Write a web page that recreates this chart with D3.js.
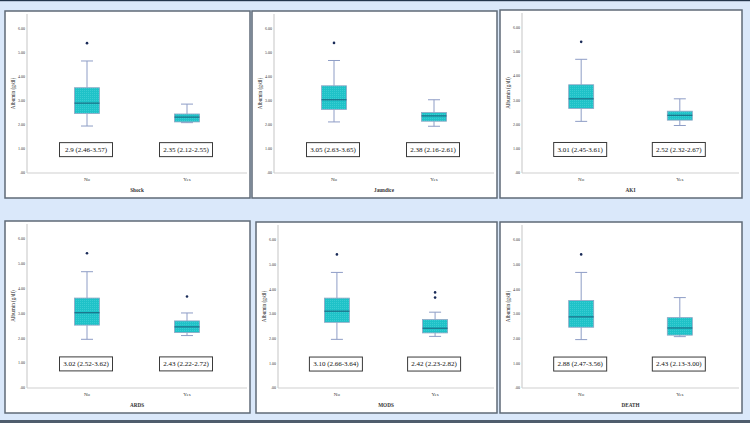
<!DOCTYPE html>
<html>
<head>
<meta charset="utf-8">
<script src="https://cdn.jsdelivr.net/npm/d3@7"></script>
<style>
  body { margin: 0; background: #dae8fa; }
  svg { display: block; font-family: "Liberation Serif", "DejaVu Serif", serif; }
</style>
</head>
<body>
<svg id="chart" width="750" height="423"></svg>
<script>
// Data: one entry per panel, [No, Yes] per entry
const panelTitles = ["Shock", "Jaundice", "AKI", "ARDS", "MODS", "DEATH"];
const categories = ["No", "Yes"];
const whiskerLow  = [[1.95, 2.09], [2.12, 1.94], [2.13, 1.96], [1.96, 2.11], [1.97, 2.09], [1.96, 2.08]];
const q1Values    = [[2.47, 2.12], [2.64, 2.15], [2.66, 2.18], [2.53, 2.23], [2.66, 2.23], [2.46, 2.14]];
const medianValues= [[2.90, 2.32], [3.04, 2.37], [3.06, 2.38], [3.03, 2.46], [3.11, 2.42], [2.88, 2.43]];
const q3Values    = [[3.54, 2.45], [3.62, 2.51], [3.64, 2.55], [3.62, 2.70], [3.64, 2.77], [3.54, 2.85]];
const whiskerHigh = [[4.65, 2.86], [4.67, 3.04], [4.69, 3.06], [4.68, 3.02], [4.68, 3.07], [4.68, 3.66]];
const outlierValues = [[[5.39], []], [[5.40], []], [[5.41], []], [[5.42], [3.68]], [[5.41], [3.66, 3.87]], [[5.41], []]];
const summaryLabels = [
  ["2.9 (2.46-3.57)", "2.35 (2.12-2.55)"],
  ["3.05 (2.63-3.65)", "2.38 (2.16-2.61)"],
  ["3.01 (2.45-3.61)", "2.52 (2.32-2.67)"],
  ["3.02 (2.52-3.62)", "2.43 (2.22-2.72)"],
  ["3.10 (2.66-3.64)", "2.42 (2.23-2.82)"],
  ["2.88 (2.47-3.56)", "2.43 (2.13-3.00)"]
];
const tickValues = [0, 1, 2, 3, 4, 5, 6];
const tickLabels = [".00", "1.00", "2.00", "3.00", "4.00", "5.00", "6.00"];
const yTitle = "Albumin (g/dl)";

// Panel frames (left, top, width, height)
const frames = [
  [5, 11, 245, 187], [252, 11, 245, 187], [500, 10, 242, 188],
  [5, 221, 245, 192], [256, 222, 241, 191], [500, 222, 242, 191]
];

const svg = d3.select("#chart");

// page frame lines
svg.append("rect").attr("x", 0).attr("y", 0).attr("width", 750).attr("height", 1.2).attr("fill", "#23354b");
svg.append("rect").attr("x", 0).attr("y", 420).attr("width", 750).attr("height", 3).attr("fill", "#4f5d6d");

// dotted fill for boxes
const defs = svg.append("defs");
const pat = defs.append("pattern")
    .attr("id", "boxFill").attr("width", 2).attr("height", 2)
    .attr("patternUnits", "userSpaceOnUse");
pat.append("rect").attr("width", 2).attr("height", 2).attr("fill", "#1fc2c8");
pat.append("rect").attr("width", 1).attr("height", 1).attr("fill", "#39cdd2");

frames.forEach(function(f, i) {
    const [left, top, w, h] = f;
    const g = svg.append("g");

    // panel background
    g.append("rect")
        .attr("x", left).attr("y", top).attr("width", w).attr("height", h)
        .attr("fill", "#fff").attr("stroke", "#5f6a77").attr("stroke-width", 1.5);

    const axisX = left + 22,
          axisEnd = left + w - 3,
          yBottom = top + h - 25,
          yTop = top + 3;

    const x = d3.scalePoint().domain(categories).range([axisX, axisEnd]).padding(0.6);
    const y = d3.scaleLinear().domain([0, 6.6]).range([yBottom, yTop]);

    // axes lines
    g.append("line").attr("x1", axisX).attr("x2", axisX).attr("y1", yTop).attr("y2", yBottom)
        .attr("stroke", "#cfcfcf").attr("stroke-width", 1.2);
    g.append("line").attr("x1", axisX).attr("x2", axisEnd).attr("y1", yBottom).attr("y2", yBottom)
        .attr("stroke", "#cfcfcf").attr("stroke-width", 1.2);

    // tick labels
    g.selectAll(".tick")
        .data(tickValues)
        .enter().append("text")
        .attr("x", axisX - 2)
        .attr("y", d => y(d) + 1.3)
        .attr("text-anchor", "end")
        .attr("font-size", 4)
        .attr("fill", "#333")
        .text((d, k) => tickLabels[k]);

    // y title
    g.append("text")
        .attr("transform", `translate(${left + 9.5},${(yTop + yBottom) / 2}) rotate(-90)`)
        .attr("text-anchor", "middle")
        .attr("font-size", 5.2)
        .attr("fill", "#222")
        .text(yTitle);

    // category labels
    g.selectAll(".cat")
        .data(categories)
        .enter().append("text")
        .attr("x", d => x(d))
        .attr("y", yBottom + 8)
        .attr("text-anchor", "middle")
        .attr("font-size", 5)
        .attr("fill", "#333")
        .text(d => d);

    // x title
    g.append("text")
        .attr("x", (axisX + axisEnd) / 2)
        .attr("y", yBottom + 19)
        .attr("text-anchor", "middle")
        .attr("font-size", 5.2)
        .attr("font-weight", "bold")
        .attr("fill", "#333")
        .text(panelTitles[i]);

    const boxW = 25, capW = 12;

    categories.forEach(function(c, j) {
        const cx = x(c);
        const lo = whiskerLow[i][j], hi = whiskerHigh[i][j];
        const q1 = q1Values[i][j], q3 = q3Values[i][j], med = medianValues[i][j];

        // whiskers
        g.append("line").attr("x1", cx).attr("x2", cx).attr("y1", y(hi)).attr("y2", y(q3))
            .attr("stroke", "#8e9dc6").attr("stroke-width", 1);
        g.append("line").attr("x1", cx).attr("x2", cx).attr("y1", y(q1)).attr("y2", y(lo))
            .attr("stroke", "#8e9dc6").attr("stroke-width", 1);
        g.append("line").attr("x1", cx - capW / 2).attr("x2", cx + capW / 2).attr("y1", y(hi)).attr("y2", y(hi))
            .attr("stroke", "#8e9dc6").attr("stroke-width", 1);
        g.append("line").attr("x1", cx - capW / 2).attr("x2", cx + capW / 2).attr("y1", y(lo)).attr("y2", y(lo))
            .attr("stroke", "#8e9dc6").attr("stroke-width", 1);

        // box
        g.append("rect")
            .attr("x", cx - boxW / 2).attr("y", y(q3))
            .attr("width", boxW).attr("height", y(q1) - y(q3))
            .attr("fill", "url(#boxFill)")
            .attr("stroke", "#8fa6c4").attr("stroke-width", 0.8);

        // median
        g.append("line").attr("x1", cx - boxW / 2).attr("x2", cx + boxW / 2)
            .attr("y1", y(med)).attr("y2", y(med))
            .attr("stroke", "#1b6e86").attr("stroke-width", 1.2);

        // outliers
        g.selectAll(null)
            .data(outlierValues[i][j])
            .enter().append("circle")
            .attr("cx", cx).attr("cy", d => y(d))
            .attr("r", 1.3)
            .attr("fill", "#1a2b58");

        // summary label box
        const labW = 53, labH = 14;
        g.append("rect")
            .attr("x", cx - labW / 2 - 1).attr("y", y(0.97) - labH / 2)
            .attr("width", labW).attr("height", labH)
            .attr("fill", "#fff").attr("stroke", "#3a3a3a").attr("stroke-width", 1);
        g.append("text")
            .attr("x", cx - 1).attr("y", y(0.97) + 2.4)
            .attr("text-anchor", "middle")
            .attr("font-size", 7)
            .attr("fill", "#111")
            .text(summaryLabels[i][j]);
    });
});
</script>
</body>
</html>
